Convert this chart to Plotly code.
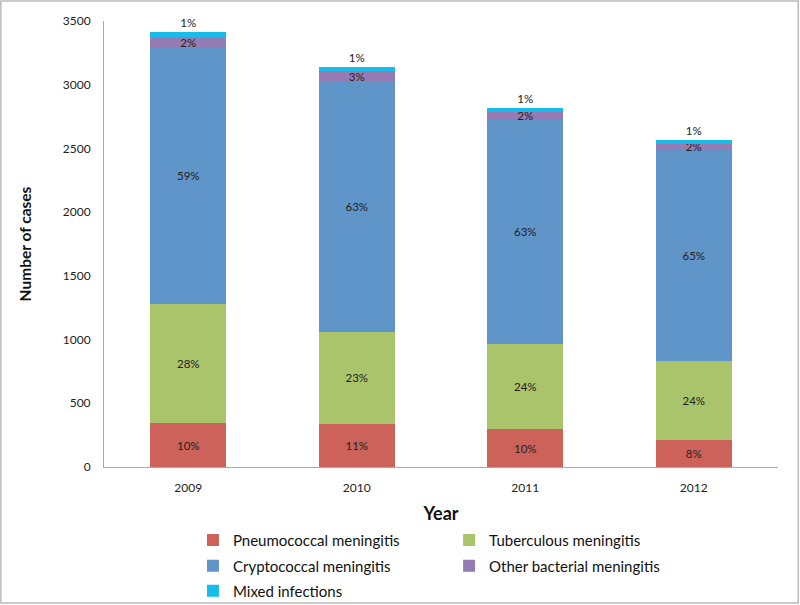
import plotly.graph_objects as go

years = ["2009", "2010", "2011", "2012"]

pneumococcal = [345, 341, 296, 215]
tuberculous = [938, 719, 667, 615]
cryptococcal = [2014, 1964, 1770, 1661]
other_bacterial = [74, 82, 55, 44]
mixed = [39, 34, 30, 28]

pneumo_lbl = ["10%", "11%", "10%", "8%"]
tb_lbl = ["28%", "23%", "24%", "24%"]
crypto_lbl = ["59%", "63%", "63%", "65%"]
other_lbl = ["2%", "3%", "2%", "2%"]
mixed_lbl = ["1%", "1%", "1%", "1%"]

font_name = "Lato, 'Open Sans', sans-serif"

series = [
    ("Pneumococcal meningitis", pneumococcal, pneumo_lbl, "#CD625A"),
    ("Tuberculous meningitis", tuberculous, tb_lbl, "#AAC46B"),
    ("Cryptococcal meningitis", cryptococcal, crypto_lbl, "#5F95C8"),
    ("Other bacterial meningitis", other_bacterial, other_lbl, "#967CB4"),
    ("Mixed infections", mixed, mixed_lbl, "#17BDE8"),
]

# one small legend per entry so the two-column layout matches
leg_names = ["legend", "legend2", "legend3", "legend4", "legend5"]
leg_pos = [(0.132, -0.164), (0.512, -0.164),
           (0.132, -0.222), (0.512, -0.222),
           (0.132, -0.278)]

fig = go.Figure()
for i, (name, vals, lbl, col) in enumerate(series):
    fig.add_trace(go.Bar(
        x=years, y=vals, name=name, text=lbl, legend=leg_names[i],
        showlegend=True,
        marker=dict(color=col, line=dict(width=0)),
        textposition="outside" if i == 4 else "inside",
        insidetextanchor="middle",
        constraintext="none",
        cliponaxis=False,
        textfont=dict(size=11.5, color="#222222", family=font_name),
        hoverinfo="skip",
    ))

legends = {}
for ln, (lx, ly) in zip(leg_names, leg_pos):
    legends[ln] = dict(
        x=lx, y=ly, xanchor="left", yanchor="middle", orientation="v",
        font=dict(size=15, family=font_name, color="#111111"),
        itemwidth=30, bgcolor="rgba(0,0,0,0)",
    )

fig.update_layout(
    showlegend=True,
    barmode="stack",
    bargap=0.55,
    width=800, height=605,
    paper_bgcolor="white", plot_bgcolor="white",
    margin=dict(l=104, r=22, t=21, b=138, autoexpand=False),
    font=dict(family=font_name, color="#222222"),
    shapes=[dict(type="rect", xref="paper", yref="paper",
                 x0=-0.153, x1=1.03, y0=-0.305, y1=1.045,
                 line=dict(color="#BBBBBB", width=1.5))],
    **legends,
)

fig.update_xaxes(
    showline=True, linecolor="#AAAAAA", linewidth=1,
    ticks="", ticklabelstandoff=10, tickfont=dict(size=12, color="#222222"),
    title=dict(text="<b>Year</b>", font=dict(size=18, color="#111111"), standoff=12),
)
fig.update_yaxes(
    range=[0, 3500], dtick=500, showgrid=False,
    showline=True, linecolor="#AAAAAA", linewidth=1,
    ticks="", ticklabelstandoff=10, tickfont=dict(size=12, color="#222222"),
    title=dict(text="<b>Number of cases</b>", font=dict(size=15.5, color="#111111"), standoff=27),
)

fig.write_html("out.html", config={"displayModeBar": False},
               post_script="document.body.style.margin='0';")
